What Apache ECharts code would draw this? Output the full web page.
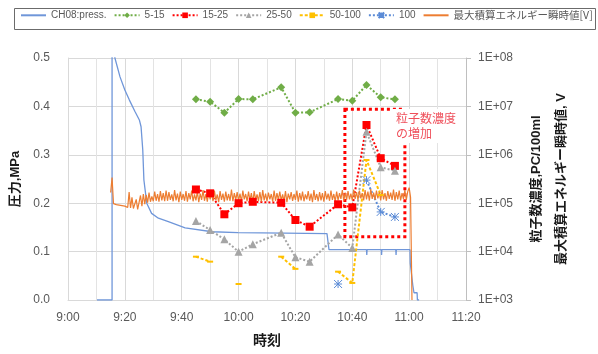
<!DOCTYPE html>
<html>
<head>
<meta charset="utf-8">
<script src="https://cdn.jsdelivr.net/npm/echarts@6.0.0/dist/echarts.min.js"></script>
<style>
  html, body { margin: 0; padding: 0; background: #fff; }
  #chart { width: 598px; height: 354px; }
</style>
</head>
<body>
<div id="chart"></div>
<script>
// minutes after 9:00
const toMin = (s) => {
  const [h, m] = s.split(":").map(Number);
  return h * 60 + m - 540;
};

// CH08 pressure, MPa
const pressTimes = [10.2, 15.5, 15.5, 16.5, 18.3, 20.0, 21.6, 23.6, 25.1, 25.7, 26.3, 26.7, 27.7, 29.4, 31.8, 35.3, 41.2, 50.7, 59.8, 76.3, 91.1, 91.8, 105.0, 105.1, 105.2, 110.2, 110.3, 110.4, 115.3, 115.4, 115.5, 120.3, 120.4, 121.3, 121.7, 122.8, 122.9, 123.5];
const pressValues = [0, 0, 0.62, 0.5, 0.461, 0.434, 0.413, 0.389, 0.372, 0.358, 0.31, 0.248, 0.2, 0.179, 0.169, 0.162, 0.149, 0.141, 0.139, 0.138, 0.137, 0.104, 0.104, 0.093, 0.104, 0.104, 0.093, 0.104, 0.104, 0.093, 0.104, 0.104, 0.076, 0.03, 0.015, 0.015, 0, 0];

// particle counts, PC/100ml (null = no sample)
const sampleTimes = ["9:45", "9:50", "9:55", "10:00", "10:05", "10:10", "10:15", "10:20", "10:25", "10:30", "10:35", "10:40", "10:45", "10:50", "10:55"];
const count5to15 = [1.40e7, 1.25e7, 7.4e6, 1.42e7, 1.40e7, null, 2.48e7, 7.4e6, 7.55e6, null, 1.42e7, 1.31e7, 2.77e7, 1.54e7, 1.40e7];
const count15to25 = [1.92e5, 1.60e5, 5.9e4, 1.0e5, 1.07e5, null, 1.02e5, 4.5e4, 3.27e4, null, 9.5e4, 8.2e4, 4.13e6, 8.5e5, 5.9e5];
const count25to50 = [4.29e4, 2.79e4, 1.79e4, 9.95e3, 1.42e4, null, 2.45e4, 7.6e3, 6.2e3, null, 2.25e4, 1.19e4, 3.0e6, 5.5e5, 4.7e5];
const count50to100 = [7.85e3, 6.2e3, null, 2.14e3, null, null, 7.85e3, 4.4e3, null, null, 3.85e3, 2.25e3, 7.8e5, 1.48e5, null];
const count100 = [null, null, null, null, null, null, null, null, null, null, 2.14e3, null, 3.0e5, 6.6e4, 5.2e4];

// max integrated energy, V (sampled every 0.5 min from 9:15)
const energyStart = 15;
const energyStep = 0.5;
const energyValues = [
  0.222, 0.253, 0.199, 0.201, 0.197, 0.199, 0.196, 0.198, 0.195, 0.197,
  0.194, 0.193, 0.191, 0.223, 0.190, 0.212, 0.189, 0.191, 0.208, 0.187,
  0.190, 0.216, 0.194, 0.219, 0.198, 0.217, 0.201, 0.222, 0.203, 0.214,
  0.204, 0.224, 0.205, 0.219, 0.203, 0.225, 0.206, 0.221, 0.204, 0.226,
  0.205, 0.223, 0.207, 0.218, 0.204, 0.227, 0.206, 0.220, 0.202, 0.224,
  0.207, 0.219, 0.205, 0.225, 0.203, 0.221, 0.208, 0.226, 0.204, 0.218,
  0.206, 0.224, 0.202, 0.220, 0.207, 0.227, 0.205, 0.219, 0.203, 0.223,
  0.208, 0.221, 0.204, 0.226, 0.206, 0.218, 0.202, 0.225, 0.207, 0.220,
  0.203, 0.224, 0.206, 0.219, 0.205, 0.228, 0.204, 0.221, 0.207, 0.223,
  0.205, 0.220, 0.203, 0.226, 0.208, 0.219, 0.204, 0.224, 0.206, 0.221,
  0.202, 0.225, 0.207, 0.218, 0.205, 0.223, 0.203, 0.227, 0.206, 0.220,
  0.204, 0.222, 0.208, 0.219, 0.203, 0.226, 0.205, 0.221, 0.207, 0.224,
  0.206, 0.218, 0.204, 0.225, 0.202, 0.220, 0.208, 0.223, 0.205, 0.219,
  0.207, 0.226, 0.203, 0.221, 0.206, 0.224, 0.204, 0.218, 0.208, 0.225,
  0.205, 0.220, 0.202, 0.227, 0.207, 0.219, 0.204, 0.223, 0.206, 0.221,
  0.203, 0.225, 0.208, 0.220, 0.205, 0.226, 0.207, 0.219, 0.204, 0.224,
  0.206, 0.221, 0.209, 0.227, 0.205, 0.222, 0.207, 0.225, 0.208, 0.220,
  0.206, 0.228, 0.209, 0.223, 0.207, 0.226, 0.210, 0.221, 0.206, 0.227,
  0.208, 0.224, 0.205, 0.229, 0.209, 0.222, 0.207, 0.226, 0.210, 0.223,
  0.206, 0.227, 0.208, 0.221, 0.205, 0.225, 0.209, 0.222, 0.207, 0.228,
  0.205, 0.223, 0.208, 0.226, 0.206, 0.221, 0.209, 0.227, 0.207, 0.224,
  0.232, 0.212, 0
];

// highlighted region (10:37 - 10:58, log axis)
const boxTimes = [97.4, 118.5];
const boxCounts = [8.7e6, 2.03e4];

const font = "'Liberation Sans', 'Noto Sans CJK JP', sans-serif";
const pair = (times, vals) => times.map((t, i) => [typeof t === "string" ? toMin(t) : t, vals[i]]);
const pad = (n) => String(n).padStart(2, "0");

const markerSeries = (name, vals, color, symbol, size, lineType, connect) => ({
  name: name,
  type: "line",
  yAxisIndex: 1,
  data: pair(sampleTimes, vals),
  connectNulls: connect,
  symbol: symbol,
  symbolSize: size,
  showAllSymbol: true,
  itemStyle: { color: color },
  lineStyle: { color: color, width: 2, type: lineType },
});

const chart = echarts.init(document.getElementById("chart"));

chart.setOption({
  animation: false,
  backgroundColor: "#fff",
  textStyle: { fontFamily: font },
  grid: { left: 68, right: 132, top: 58, bottom: 54 },
  legend: {
    left: 20,
    top: 10,
    width: 576,
    padding: 0,
    itemWidth: 25,
    itemHeight: 7,
    itemGap: 7,
    textStyle: {
      fontSize: 10,
      color: "#595959",
      fontFamily: font,
      rich: { j: { fontSize: 10.5, fontFamily: "'Noto Sans CJK JP'", color: "#595959" } },
    },
    formatter: (name) => (/^[\x00-\x7f]+$/.test(name) ? name : "{j|" + name + "}"),
    data: [
      { name: "CH08:press.", itemStyle: { opacity: 0 } },
      "5-15", "15-25", "25-50", "50-100", "100",
      { name: "最大積算エネルギー瞬時値[V]", itemStyle: { opacity: 0 } },
    ],
  },
  graphic: [
    {
      type: "rect",
      left: 12,
      top: 6,
      shape: { width: 581, height: 21 },
      style: { fill: "none", stroke: "#6b6b6b", lineWidth: 1 },
      silent: true,
    },
    {
      type: "text",
      left: 392,
      top: 109,
      z: 100,
      style: {
        text: "粒子数濃度\nの増加",
        fill: "#ef4f5a",
        font: "12px 'Noto Sans CJK JP'",
        lineHeight: 15,
        backgroundColor: "#fff",
        padding: [2, 4],
      },
    },
  ],
  xAxis: {
    type: "value",
    min: 0,
    max: 140,
    interval: 20,
    name: "時刻",
    nameLocation: "middle",
    nameGap: 34,
    nameTextStyle: { fontSize: 14, fontWeight: "bold", color: "#1a1a1a" },
    axisLine: { show: true, lineStyle: { color: "#d9d9d9" } },
    axisTick: { show: false },
    axisLabel: {
      fontSize: 12,
      color: "#595959",
      margin: 12,
      formatter: (v) => `${Math.floor((540 + v) / 60)}:${pad((540 + v) % 60)}`,
    },
    splitLine: { show: true, lineStyle: { color: "#d9d9d9" } },
    minorTick: { show: false, splitNumber: 2 },
    minorSplitLine: { show: true, lineStyle: { color: "#e3e3e3" } },
  },
  yAxis: [
    {
      type: "value",
      min: 0,
      max: 0.5,
      interval: 0.1,
      name: "圧力,MPa",
      nameLocation: "middle",
      nameRotate: 90,
      nameGap: 42,
      nameTextStyle: { fontSize: 13, fontWeight: "bold", color: "#1a1a1a" },
      axisLine: { show: true, lineStyle: { color: "#d9d9d9" } },
      axisTick: { show: false },
      axisLabel: { fontSize: 12, color: "#595959", margin: 18, formatter: (v) => v.toFixed(1) },
      splitLine: { show: true, lineStyle: { color: "#d9d9d9" } },
    },
    {
      type: "log",
      logBase: 10,
      min: 1e3,
      max: 1e8,
      position: "right",
      name: "粒子数濃度,PC/100ml\n最大積算エネルギー瞬時値, V",
      nameLocation: "middle",
      nameRotate: 90,
      nameGap: 54,
      nameTextStyle: { fontSize: 13, fontWeight: "bold", color: "#1a1a1a", lineHeight: 25 },
      axisLine: { show: true, lineStyle: { color: "#bfbfbf" } },
      axisTick: { show: true, inside: false, length: 5, lineStyle: { color: "#bfbfbf" } },
      axisLabel: {
        fontSize: 12,
        color: "#595959",
        margin: 12,
        formatter: (v) => "1E+" + pad(Math.round(Math.log10(v))),
      },
      splitLine: { show: false },
    },
  ],
  series: [
    {
      name: "CH08:press.",
      type: "line",
      yAxisIndex: 0,
      data: pair(pressTimes, pressValues),
      symbol: "none",
      clip: true,
      lineStyle: { color: "#6f96d9", width: 1.3 },
      itemStyle: { color: "#6f96d9" },
    },
    markerSeries("5-15", count5to15, "#70ad47", "diamond", 8, "dotted", true),
    Object.assign(markerSeries("15-25", count15to25, "#ff0000", "rect", 8, "dotted", true), {
      markArea: {
        silent: true,
        itemStyle: { color: "rgba(0,0,0,0)", borderColor: "#ff0000", borderWidth: 3, borderType: "dotted" },
        data: [[
          { xAxis: boxTimes[0], yAxis: boxCounts[0] },
          { xAxis: boxTimes[1], yAxis: boxCounts[1] },
        ]],
      },
    }),
    markerSeries("25-50", count25to50, "#a5a5a5", "triangle", 8, "dotted", true),
    markerSeries("50-100", count50to100, "#ffc000", "rect", [6, 2], [3, 2], false),
    Object.assign(markerSeries("100", count100, "#5b8bd6", "path://M0,0L10,10M10,0L0,10M5,0L5,10M0,5L10,5", 8, "dotted", false), {
      itemStyle: { color: "none", borderColor: "#5b8bd6", borderWidth: 1 },
    }),
    {
      name: "最大積算エネルギー瞬時値[V]",
      type: "line",
      yAxisIndex: 0,
      z: 3,
      data: energyValues.map((v, i) => [energyStart + i * energyStep, v]),
      symbol: "none",
      lineStyle: { color: "#ed7d31", width: 1.2 },
      itemStyle: { color: "#ed7d31" },
    },
  ],
});
</script>
</body>
</html>
